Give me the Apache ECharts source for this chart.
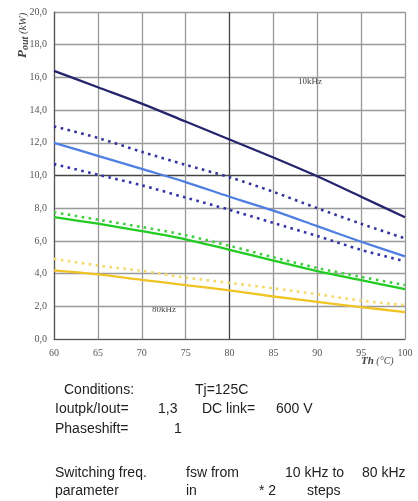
<!DOCTYPE html>
<html><head><meta charset="utf-8">
<script src="https://cdn.jsdelivr.net/npm/echarts@6/dist/echarts.min.js"></script>
<style>html,body{margin:0;padding:0;background:#fff}#c{width:418px;height:501px}</style>
</head><body><div id="c"></div>
<script>
var temps = [60, 65, 70, 75, 80, 85, 90, 95, 100];
var navySolid   = [16.4, 15.4, 14.4, 13.3, 12.2, 11.1, 9.95, 8.7, 7.45];
var navyDotHigh = [13.0, 12.3, 11.45, 10.65, 9.9, 9.0, 8.0, 7.05, 6.15];
var blueSolid   = [12.0, 11.2, 10.4, 9.6, 8.7, 7.85, 6.9, 5.95, 5.05];
var navyDotLow  = [10.7, 10.05, 9.4, 8.65, 7.9, 7.1, 6.3, 5.45, 4.75];
var greenDot    = [7.75, 7.3, 6.85, 6.35, 5.7, 5.0, 4.35, 3.8, 3.3];
var greenSolid  = [7.45, 7.05, 6.6, 6.1, 5.45, 4.8, 4.15, 3.6, 3.05];
var yellowDot   = [4.9, 4.5, 4.17, 3.76, 3.43, 3.1, 2.74, 2.35, 2.07];
var yellowSolid = [4.2, 3.95, 3.62, 3.3, 2.97, 2.6, 2.27, 1.95, 1.65];
var xTicks = [60, 65, 70, 75, 80, 85, 90, 95, 100];
var yTicks = [0, 2, 4, 6, 8, 10, 12, 14, 16, 18, 20];

function pts(arr){ return temps.map(function(t,i){ return [t, arr[i]]; }); }
function mk(name, arr, color, dotted){
  return {
    name: name, type: 'line', data: pts(arr), symbol: 'none', smooth: 0.3, z: dotted ? 3 : 4,
    lineStyle: dotted ? {color: color, width: 2.6, type: [2.6, 4.4], cap: 'butt'} : {color: color, width: 2.3},
    silent: true
  };
}
var xColors = xTicks.map(function(v){ return v === 80 ? '#444' : '#999'; });
var yColors = yTicks.map(function(v){ return v === 10 ? '#444' : '#999'; });
var serif = '"Liberation Serif", "DejaVu Serif", serif';
var sans = '"Liberation Sans", Arial, sans-serif';
function txt(x, y, s){
  return {type: 'text', x: x, y: y, style: {text: s, fill: '#222', font: '14px ' + sans, verticalAlign: 'middle'}};
}

var chart = echarts.init(document.getElementById('c'), null, {renderer: 'canvas'});
chart.setOption({
  animation: false,
  backgroundColor: '#fff',
  grid: {left: 54, right: 13, top: 12, bottom: 162, containLabel: false},
  xAxis: {
    type: 'value', min: 60, max: 100, interval: 5,
    axisLine: {show: true, lineStyle: {color: '#555', width: 1.2}},
    axisTick: {show: false},
    axisLabel: {color: '#555', fontFamily: serif, fontSize: 10, margin: 9},
    splitLine: {show: true, lineStyle: {color: xColors, width: 1.3}}
  },
  yAxis: {
    type: 'value', min: 0, max: 20, interval: 2,
    axisLine: {show: true, lineStyle: {color: '#555', width: 1.2}},
    axisTick: {show: false},
    axisLabel: {color: '#555', fontFamily: serif, fontSize: 10, margin: 7,
      formatter: function(v){ return v.toFixed(1).replace('.', ','); }},
    splitLine: {show: true, lineStyle: {color: yColors, width: 1.3}}
  },
  series: [
    mk('10kHz', navySolid, '#25256e', false),
    mk('10kHz dotted', navyDotHigh, '#34349a', true),
    mk('20kHz', blueSolid, '#4f7fe0', false),
    mk('20kHz dotted', navyDotLow, '#3434a8', true),
    mk('40kHz dotted', greenDot, '#44cc44', true),
    mk('40kHz', greenSolid, '#22cc22', false),
    mk('80kHz dotted', yellowDot, '#f5d96a', true),
    mk('80kHz', yellowSolid, '#f0c424', false)
  ],
  graphic: [
    {type: 'text', x: 298, y: 77, style: {text: '10kHz', fill: '#444', font: '9px ' + serif}},
    {type: 'text', x: 152, y: 305, style: {text: '80kHz', fill: '#444', font: '9px ' + serif}},
    {type: 'text', x: 16, y: 58, rotation: Math.PI / 2,
      style: {text: '{p|P}{s|out}{u| (kW)}', fill: '#444',
        rich: {
          p: {fontFamily: serif, fontStyle: 'italic', fontWeight: 'bold', fontSize: 13, fill: '#444'},
          s: {fontFamily: serif, fontStyle: 'italic', fontWeight: 'bold', fontSize: 10, fill: '#444', padding: [4, 0, 0, 0]},
          u: {fontFamily: serif, fontStyle: 'italic', fontSize: 11, fill: '#444'}
        }}},
    {type: 'text', x: 361, y: 356,
      style: {text: '{t|Th}{u| (°C)}',
        rich: {
          t: {fontFamily: serif, fontStyle: 'italic', fontWeight: 'bold', fontSize: 11, fill: '#444'},
          u: {fontFamily: serif, fontStyle: 'italic', fontSize: 10, fill: '#444'}
        }}},
    txt(64, 390, 'Conditions:'),
    txt(195, 390, 'Tj=125C'),
    txt(55, 409, 'Ioutpk/Iout='),
    txt(158, 409, '1,3'),
    txt(202, 409, 'DC link='),
    txt(276, 409, '600 V'),
    txt(55, 429, 'Phaseshift='),
    txt(174, 429, '1'),
    txt(55, 473, 'Switching freq.'),
    txt(186, 473, 'fsw from'),
    txt(285, 473, '10 kHz to'),
    txt(362, 473, '80 kHz'),
    txt(55, 491, 'parameter'),
    txt(186, 491, 'in'),
    txt(259, 491, '* 2'),
    txt(307, 491, 'steps')
  ]
});
</script></body></html>
